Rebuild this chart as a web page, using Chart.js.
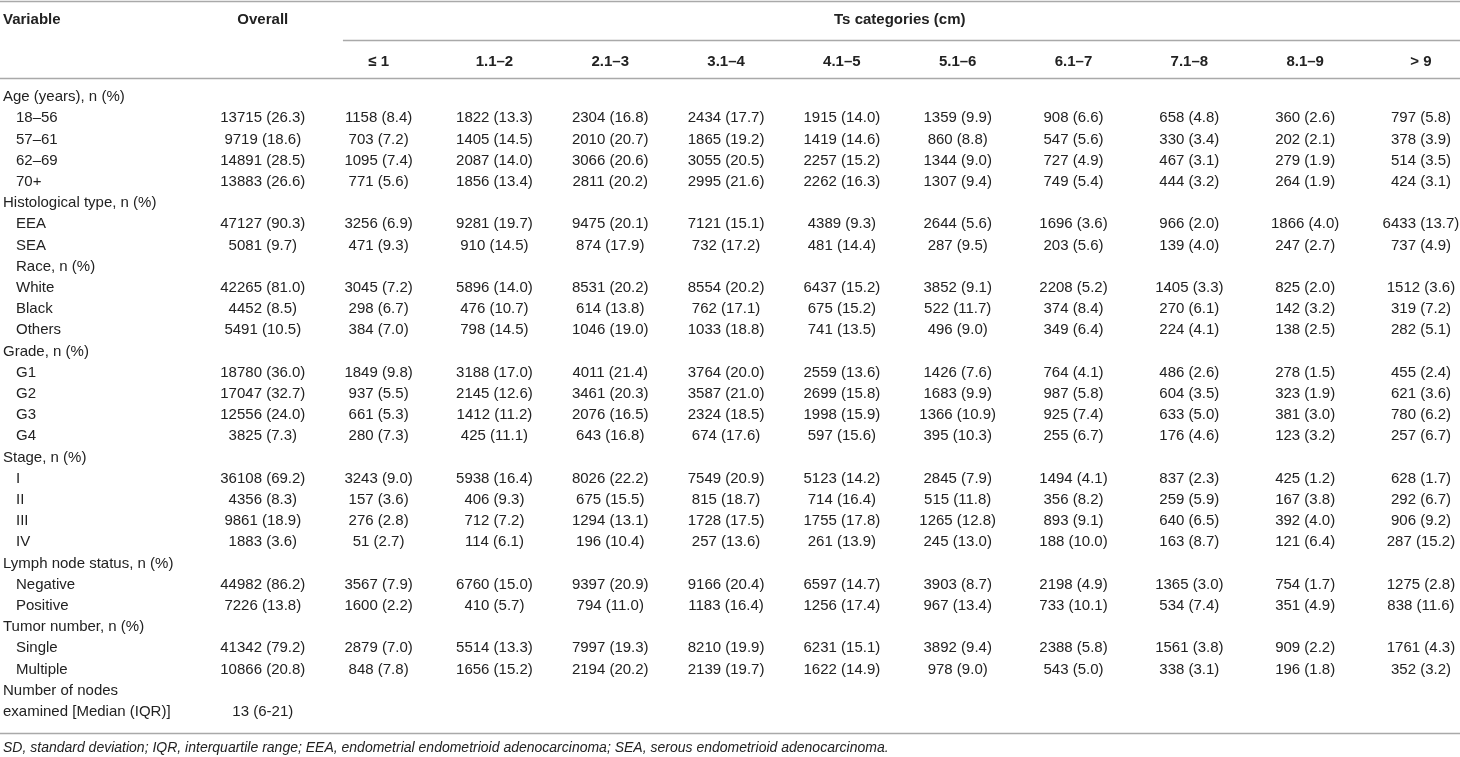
<!DOCTYPE html>
<html lang="en">
<head>
<meta charset="UTF-8">
<title>Ts categories table</title>
<script src="https://cdn.jsdelivr.net/npm/chart.js@4.4.0/dist/chart.umd.min.js"></script>
<style>
  html, body { margin: 0; padding: 0; background: #fff; }
  #wrap { width: 1460px; height: 757px; position: relative; }
</style>
</head>
<body>
<div id="wrap"><canvas id="chart"></canvas></div>
<script>
// column headers (Overall + size categories)
var columns = ["Overall", "\u2264 1", "1.1\u20132", "2.1\u20133", "3.1\u20134", "4.1\u20135",
  "5.1\u20136", "6.1\u20137", "7.1\u20138", "8.1\u20139", "> 9"];
var spanTitle = "Ts categories (cm)";
var firstHeader = "Variable";

// Age
var ageLabels = ["18\u201356", "57\u201361", "62\u201369", "70+"];
var ageN = [
  [13715, 1158, 1822, 2304, 2434, 1915, 1359, 908, 658, 360, 797],
  [9719, 703, 1405, 2010, 1865, 1419, 860, 547, 330, 202, 378],
  [14891, 1095, 2087, 3066, 3055, 2257, 1344, 727, 467, 279, 514],
  [13883, 771, 1856, 2811, 2995, 2262, 1307, 749, 444, 264, 424]
];
var agePct = [
  [26.3, 8.4, 13.3, 16.8, 17.7, 14.0, 9.9, 6.6, 4.8, 2.6, 5.8],
  [18.6, 7.2, 14.5, 20.7, 19.2, 14.6, 8.8, 5.6, 3.4, 2.1, 3.9],
  [28.5, 7.4, 14.0, 20.6, 20.5, 15.2, 9.0, 4.9, 3.1, 1.9, 3.5],
  [26.6, 5.6, 13.4, 20.2, 21.6, 16.3, 9.4, 5.4, 3.2, 1.9, 3.1]
];

// Histological type
var histLabels = ["EEA", "SEA"];
var histN = [
  [47127, 3256, 9281, 9475, 7121, 4389, 2644, 1696, 966, 1866, 6433],
  [5081, 471, 910, 874, 732, 481, 287, 203, 139, 247, 737]
];
var histPct = [
  [90.3, 6.9, 19.7, 20.1, 15.1, 9.3, 5.6, 3.6, 2.0, 4.0, 13.7],
  [9.7, 9.3, 14.5, 17.9, 17.2, 14.4, 9.5, 5.6, 4.0, 2.7, 4.9]
];

// Race
var raceLabels = ["White", "Black", "Others"];
var raceN = [
  [42265, 3045, 5896, 8531, 8554, 6437, 3852, 2208, 1405, 825, 1512],
  [4452, 298, 476, 614, 762, 675, 522, 374, 270, 142, 319],
  [5491, 384, 798, 1046, 1033, 741, 496, 349, 224, 138, 282]
];
var racePct = [
  [81.0, 7.2, 14.0, 20.2, 20.2, 15.2, 9.1, 5.2, 3.3, 2.0, 3.6],
  [8.5, 6.7, 10.7, 13.8, 17.1, 15.2, 11.7, 8.4, 6.1, 3.2, 7.2],
  [10.5, 7.0, 14.5, 19.0, 18.8, 13.5, 9.0, 6.4, 4.1, 2.5, 5.1]
];

// Grade
var gradeLabels = ["G1", "G2", "G3", "G4"];
var gradeN = [
  [18780, 1849, 3188, 4011, 3764, 2559, 1426, 764, 486, 278, 455],
  [17047, 937, 2145, 3461, 3587, 2699, 1683, 987, 604, 323, 621],
  [12556, 661, 1412, 2076, 2324, 1998, 1366, 925, 633, 381, 780],
  [3825, 280, 425, 643, 674, 597, 395, 255, 176, 123, 257]
];
var gradePct = [
  [36.0, 9.8, 17.0, 21.4, 20.0, 13.6, 7.6, 4.1, 2.6, 1.5, 2.4],
  [32.7, 5.5, 12.6, 20.3, 21.0, 15.8, 9.9, 5.8, 3.5, 1.9, 3.6],
  [24.0, 5.3, 11.2, 16.5, 18.5, 15.9, 10.9, 7.4, 5.0, 3.0, 6.2],
  [7.3, 7.3, 11.1, 16.8, 17.6, 15.6, 10.3, 6.7, 4.6, 3.2, 6.7]
];

// Stage
var stageLabels = ["I", "II", "III", "IV"];
var stageN = [
  [36108, 3243, 5938, 8026, 7549, 5123, 2845, 1494, 837, 425, 628],
  [4356, 157, 406, 675, 815, 714, 515, 356, 259, 167, 292],
  [9861, 276, 712, 1294, 1728, 1755, 1265, 893, 640, 392, 906],
  [1883, 51, 114, 196, 257, 261, 245, 188, 163, 121, 287]
];
var stagePct = [
  [69.2, 9.0, 16.4, 22.2, 20.9, 14.2, 7.9, 4.1, 2.3, 1.2, 1.7],
  [8.3, 3.6, 9.3, 15.5, 18.7, 16.4, 11.8, 8.2, 5.9, 3.8, 6.7],
  [18.9, 2.8, 7.2, 13.1, 17.5, 17.8, 12.8, 9.1, 6.5, 4.0, 9.2],
  [3.6, 2.7, 6.1, 10.4, 13.6, 13.9, 13.0, 10.0, 8.7, 6.4, 15.2]
];

// Lymph node status
var nodeLabels = ["Negative", "Positive"];
var nodeN = [
  [44982, 3567, 6760, 9397, 9166, 6597, 3903, 2198, 1365, 754, 1275],
  [7226, 1600, 410, 794, 1183, 1256, 967, 733, 534, 351, 838]
];
var nodePct = [
  [86.2, 7.9, 15.0, 20.9, 20.4, 14.7, 8.7, 4.9, 3.0, 1.7, 2.8],
  [13.8, 2.2, 5.7, 11.0, 16.4, 17.4, 13.4, 10.1, 7.4, 4.9, 11.6]
];

// Tumor number
var tumorLabels = ["Single", "Multiple"];
var tumorN = [
  [41342, 2879, 5514, 7997, 8210, 6231, 3892, 2388, 1561, 909, 1761],
  [10866, 848, 1656, 2194, 2139, 1622, 978, 543, 338, 196, 352]
];
var tumorPct = [
  [79.2, 7.0, 13.3, 19.3, 19.9, 15.1, 9.4, 5.8, 3.8, 2.2, 4.3],
  [20.8, 7.8, 15.2, 20.2, 19.7, 14.9, 9.0, 5.0, 3.1, 1.8, 3.2]
];

// nodes examined
var nodesMedian = 13;
var nodesIQR = [6, 21];

var footnote = "SD, standard deviation; IQR, interquartile range; EEA, endometrial endometrioid adenocarcinoma; SEA, serous endometrioid adenocarcinoma.";

var groups = [
  { title: "Age (years), n (%)", labels: ageLabels, n: ageN, pct: agePct },
  { title: "Histological type, n (%)", labels: histLabels, n: histN, pct: histPct },
  { title: "Race, n (%)", indentTitle: true, labels: raceLabels, n: raceN, pct: racePct },
  { title: "Grade, n (%)", labels: gradeLabels, n: gradeN, pct: gradePct },
  { title: "Stage, n (%)", labels: stageLabels, n: stageN, pct: stagePct },
  { title: "Lymph node status, n (%)", labels: nodeLabels, n: nodeN, pct: nodePct },
  { title: "Tumor number, n (%)", labels: tumorLabels, n: tumorN, pct: tumorPct }
];

// flatten into table rows
var rowLabels = [];
var rowIndent = [];
var cellPoints = columns.map(function () { return []; });
groups.forEach(function (g) {
  rowLabels.push(g.title);
  rowIndent.push(!!g.indentTitle);
  g.labels.forEach(function (lab, i) {
    var r = rowLabels.length;
    rowLabels.push(lab);
    rowIndent.push(true);
    for (var c = 0; c < columns.length; c++) {
      cellPoints[c].push({ x: c, y: r, text: g.n[i][c] + " (" + g.pct[i][c].toFixed(1) + ")" });
    }
  });
});
rowLabels.push("Number of nodes");
rowIndent.push(false);
rowLabels.push("examined [Median (IQR)]");
rowIndent.push(false);
cellPoints[0].push({ x: 0, y: rowLabels.length - 1, text: nodesMedian + " (" + nodesIQR[0] + "-" + nodesIQR[1] + ")" });

// layout in axis units
var LABEL_X = -2.243, INDENT_X = -2.131, SPAN_X0 = 0.692;
var HEAD1_Y = -3.63, HEAD2_Y = -1.65;
var TOP_LINE_Y = -4.53, SPAN_LINE_Y = -2.69, HEAD_LINE_Y = -0.9, BOTTOM_LINE_Y = 30.0, NOTE_Y = 30.72;

var FONT = "'Liberation Sans', Arial, Helvetica, sans-serif";
var TEXT = "#222";

var tablePlugin = {
  id: "tablePlugin",
  afterDatasetsDraw: function (chart) {
    var ctx = chart.ctx;
    var xs = chart.scales.x, ys = chart.scales.y;
    var left = chart.chartArea.left, right = chart.chartArea.right;
    ctx.save();

    // rules
    ctx.strokeStyle = "#a9a9a9";
    ctx.lineWidth = 1.5;
    function hline(x0, x1, yv) {
      var y = Math.round(ys.getPixelForValue(yv)) + 0.5;
      ctx.beginPath();
      ctx.moveTo(x0, y);
      ctx.lineTo(x1, y);
      ctx.stroke();
    }
    hline(left, right, TOP_LINE_Y);
    hline(xs.getPixelForValue(SPAN_X0), right, SPAN_LINE_Y);
    hline(left, right, HEAD_LINE_Y);
    hline(left, right, BOTTOM_LINE_Y);

    // headers
    ctx.fillStyle = TEXT;
    ctx.textBaseline = "middle";
    ctx.font = "bold 15px " + FONT;
    ctx.textAlign = "left";
    ctx.fillText(firstHeader, xs.getPixelForValue(LABEL_X), ys.getPixelForValue(HEAD1_Y));
    ctx.textAlign = "center";
    ctx.fillText(columns[0], xs.getPixelForValue(0), ys.getPixelForValue(HEAD1_Y));
    ctx.fillText(spanTitle, xs.getPixelForValue((1 + columns.length - 1) / 2), ys.getPixelForValue(HEAD1_Y));
    for (var c = 1; c < columns.length; c++) {
      ctx.fillText(columns[c], xs.getPixelForValue(c), ys.getPixelForValue(HEAD2_Y));
    }

    // row labels
    ctx.font = "15px " + FONT;
    ctx.textAlign = "left";
    rowLabels.forEach(function (lab, r) {
      var xv = rowIndent[r] ? INDENT_X : LABEL_X;
      ctx.fillText(lab, xs.getPixelForValue(xv), ys.getPixelForValue(r));
    });

    // cells, placed at the dataset points
    ctx.textAlign = "center";
    chart.data.datasets.forEach(function (ds, di) {
      var meta = chart.getDatasetMeta(di);
      meta.data.forEach(function (pt, i) {
        ctx.fillText(ds.data[i].text, pt.x, pt.y);
      });
    });

    // footnote
    ctx.font = "italic 14px " + FONT;
    ctx.textAlign = "left";
    ctx.fillText(footnote, xs.getPixelForValue(LABEL_X), ys.getPixelForValue(NOTE_Y));
    ctx.restore();
  }
};

var chart = new Chart(document.getElementById("chart"), {
  type: "scatter",
  data: {
    datasets: columns.map(function (name, c) {
      return { label: name, data: cellPoints[c], pointRadius: 0, pointHoverRadius: 0 };
    })
  },
  options: {
    responsive: true,
    maintainAspectRatio: false,
    animation: false,
    layout: { padding: 0 },
    plugins: { legend: { display: false }, tooltip: { enabled: false } },
    events: [],
    scales: {
      x: { type: "linear", min: -2.269, max: 10.337, display: false },
      y: { type: "linear", min: -4.575, max: 31.132, reverse: true, display: false }
    }
  },
  plugins: [tablePlugin]
});
</script>
</body>
</html>
